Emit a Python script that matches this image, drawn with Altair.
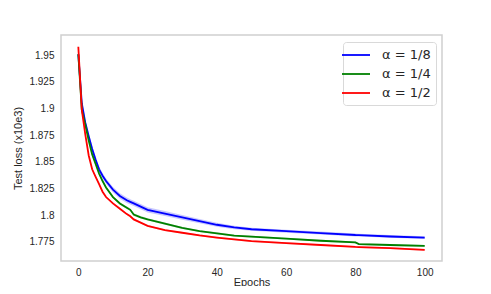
import altair as alt
import pandas as pd

epochs = [0, 1, 2, 3, 4, 5, 6, 7, 8, 10, 12, 14, 15, 16, 18, 20, 25, 30, 35, 40,
          45, 50, 60, 70, 80, 81, 90, 100]

blue = [1.951, 1.905, 1.887, 1.874, 1.862, 1.852, 1.843, 1.837, 1.832, 1.824,
        1.818, 1.814, 1.8125, 1.811, 1.808, 1.805, 1.8015, 1.798, 1.7945, 1.791,
        1.7885, 1.7868, 1.785, 1.7832, 1.7814, 1.7813, 1.780, 1.779]
green = [1.951, 1.899, 1.885, 1.870, 1.857, 1.848, 1.839, 1.832, 1.826, 1.817,
         1.811, 1.807, 1.805, 1.8005, 1.798, 1.796, 1.792, 1.788, 1.785, 1.783,
         1.7808, 1.7798, 1.778, 1.776, 1.7745, 1.7728, 1.772, 1.7711]
red = [1.958, 1.899, 1.876, 1.856, 1.843, 1.836, 1.829, 1.822, 1.817, 1.811,
       1.806, 1.801, 1.799, 1.796, 1.793, 1.790, 1.786, 1.7835, 1.781, 1.779,
       1.7772, 1.7757, 1.7737, 1.772, 1.7702, 1.7701, 1.769, 1.7674]

blue_sd = [0.003, 0.003, 0.003, 0.003, 0.003, 0.0028, 0.0027, 0.0026, 0.0025, 0.0025,
           0.0025, 0.0025, 0.0025, 0.0025, 0.0024, 0.0024, 0.0023, 0.0022, 0.002, 0.0018,
           0.0016, 0.0015, 0.0014, 0.0014, 0.0013, 0.0013, 0.0013, 0.0013]
green_sd = [0.002, 0.002, 0.002, 0.002, 0.002, 0.0015, 0.0015, 0.0013, 0.0013, 0.0012,
            0.0012, 0.0012, 0.0012, 0.0012, 0.0012, 0.0011, 0.001, 0.0009, 0.0009, 0.0009,
            0.0009, 0.0009, 0.0009, 0.0009, 0.0009, 0.0009, 0.0009, 0.0009]
red_sd = [0.0015, 0.0015, 0.0015, 0.0012, 0.0012, 0.001, 0.001, 0.0009, 0.0009, 0.0009,
          0.0009, 0.0009, 0.0009, 0.0009, 0.0008, 0.0008, 0.0008, 0.0008, 0.0008, 0.0008,
          0.0008, 0.0008, 0.0008, 0.0008, 0.0008, 0.0008, 0.0008, 0.0008]

labels = ["α = 1/8", "α = 1/4", "α = 1/2"]
colors = ["#0000ff", "#008000", "#ff0000"]
x_ticks = [0, 20, 40, 60, 80, 100]
y_ticks = [1.775, 1.8, 1.825, 1.85, 1.875, 1.9, 1.925, 1.95]

rows = []
for lab, vals, sds in zip(labels, [blue, green, red], [blue_sd, green_sd, red_sd]):
    for e, v, s in zip(epochs, vals, sds):
        rows.append({"epoch": e, "loss": v, "lo": v - s, "hi": v + s, "series": lab})
df = pd.DataFrame(rows)

xs = alt.Scale(domain=[-5, 105], nice=False, zero=False)
ys = alt.Scale(domain=[1.757, 1.969], nice=False, zero=False)
cs = alt.Scale(domain=labels, range=colors)

x_axis = alt.Axis(title="Epochs", values=x_ticks, grid=False, domain=False,
                  ticks=False, labelPadding=6, labelOverlap=False,
                  titleBaseline="alphabetic", titleY=24)
y_axis = alt.Axis(title="Test loss (x10e3)", values=y_ticks,
                  labelExpr="format(datum.value, '.3~f')", labelOverlap=False,
                  grid=False, domain=False, ticks=False, labelPadding=7,
                  titlePadding=5)

base = alt.Chart(df)

bands = []
for lab, col in zip(labels, colors):
    bands.append(
        base.transform_filter(alt.datum.series == lab)
        .mark_area(color=col, fillOpacity=0.22)
        .encode(
            x=alt.X("epoch:Q", scale=xs, axis=x_axis),
            y=alt.Y("lo:Q", scale=ys, axis=y_axis),
            y2="hi:Q",
        )
    )

line = base.mark_line(strokeWidth=1.8).encode(
    x=alt.X("epoch:Q", scale=xs, axis=x_axis),
    y=alt.Y("loss:Q", scale=ys, axis=y_axis),
    color=alt.Color("series:N", scale=cs,
                    legend=alt.Legend(title=None, orient="none", legendX=282, legendY=7,
                                      fillColor="white", strokeColor="#d9d9d9",
                                      cornerRadius=3, padding=5,
                                      symbolType="M-2,0H2", symbolSize=196,
                                      symbolStrokeWidth=1.8,
                                      labelFont="DejaVu Sans", labelFontSize=13,
                                      labelOffset=18, rowPadding=4,
                                      labelColor="#262626")),
    order="epoch:Q",
)

chart = alt.layer(*bands, line).properties(
    width=381, height=226,
    autosize=alt.AutoSizeParams(type="none"),
    padding={"left": 53, "top": 27, "right": 41, "bottom": 25},
    background="white",
).configure_view(stroke="#d0d0d0", strokeWidth=1.5).configure_axis(
    labelFont="Liberation Sans", labelFontSize=10, labelColor="#262626",
    titleFont="Liberation Sans", titleFontSize=11, titleColor="#262626",
    titleFontWeight="normal",
)

chart.save("out.html", embed_options={"renderer": "svg", "actions": False})
